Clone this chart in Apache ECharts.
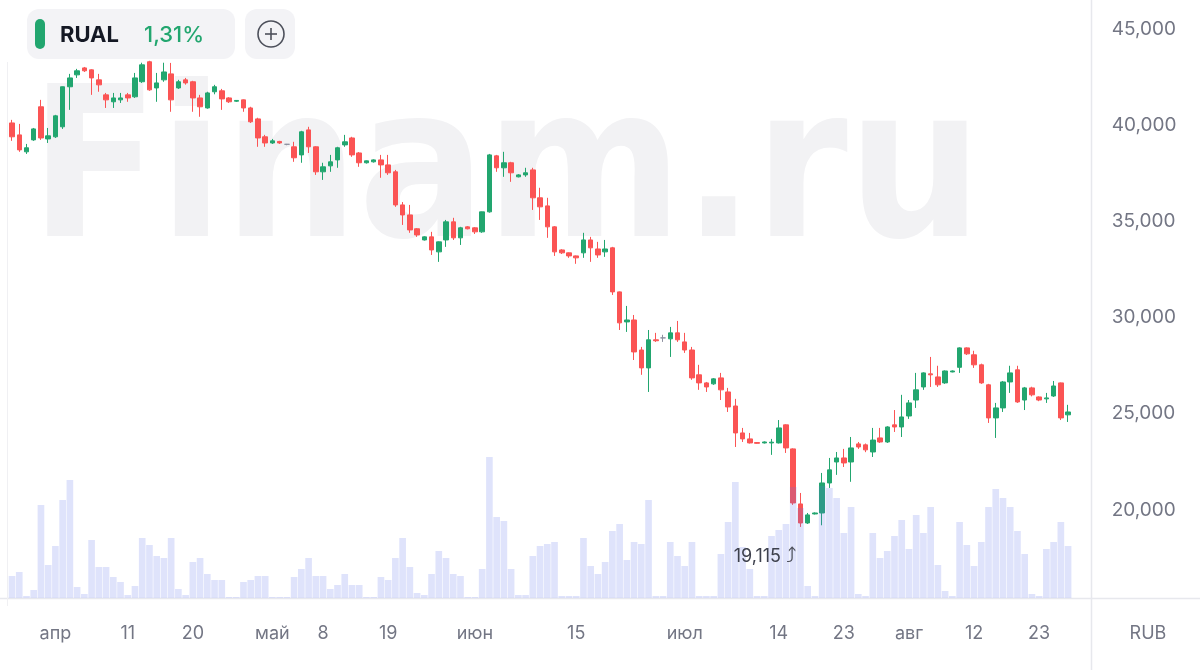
<!DOCTYPE html>
<html>
<head>
<meta charset="utf-8">
<script src="https://cdn.jsdelivr.net/npm/echarts@6/dist/echarts.min.js"></script>
<style>
html,body{margin:0;padding:0;background:#fff;}
#chart{width:1200px;height:670px;}
</style>
</head>
<body>
<div id="chart"></div>
<script>
// ---- data ----
const ticker = 'RUAL';
const changeText = '1,31%';
const currency = 'RUB';

const dates = [
'26.03','27.03','28.03','29.03','30.03','31.03',
'01.04','02.04','03.04','04.04','05.04','06.04','07.04','08.04','09.04','10.04',
'11.04','12.04','13.04','14.04','15.04','16.04','17.04','18.04','19.04','20.04',
'21.04','22.04','23.04','24.04','25.04','26.04','27.04','28.04','29.04','30.04',
'01.05','02.05','03.05','04.05','05.05','06.05','07.05','08.05',
'11.05','12.05','13.05','14.05','15.05','16.05','17.05','18.05','19.05','20.05','21.05','22.05','23.05',
'25.05','26.05','27.05','28.05','29.05','30.05','31.05',
'01.06','02.06','03.06','04.06','05.06','06.06','07.06','08.06','09.06','10.06',
'11.06','12.06','13.06','14.06','15.06','16.06','17.06','18.06','19.06','20.06','21.06',
'23.06','24.06','25.06','26.06','27.06','28.06','29.06','30.06',
'01.07','02.07','03.07','04.07','05.07','06.07','07.07','08.07','09.07','10.07',
'11.07','12.07','13.07','14.07','15.07','16.07','17.07','18.07','19.07','20.07',
'21.07','22.07','23.07','24.07','25.07','26.07','27.07','28.07','29.07','30.07','31.07',
'01.08',
'04.08','05.08','06.08','07.08','08.08','09.08','10.08','11.08','12.08','13.08','14.08','15.08',
'18.08','19.08','20.08','21.08','22.08','23.08','24.08','25.08','26.08','27.08'
];

// [open, close, low, high]
const candles = [
[40.11,39.39,39.18,40.27],[39.49,38.71,38.61,40.06],[38.61,38.82,38.50,39.02],[39.23,39.80,39.18,39.85],
[40.95,39.33,39.23,41.31],[39.28,39.44,39.07,39.85],[39.39,40.48,39.33,40.53],[39.91,41.99,39.80,42.00],
[41.99,42.45,40.79,42.66],[42.61,42.82,42.45,42.92],[42.97,42.82,42.76,43.02],[42.87,42.45,41.57,42.90],
[42.35,42.09,41.73,42.66],[41.57,41.31,40.89,41.67],[41.21,41.41,40.89,41.67],[41.31,41.41,41.15,41.67],
[41.57,41.41,41.21,41.67],[41.47,42.45,41.41,42.71],[42.25,43.13,42.19,43.24],[43.29,41.83,41.78,43.34],
[41.93,42.19,41.21,42.71],[42.35,42.76,42.25,43.24],[42.66,41.31,40.69,43.23],[41.93,42.25,41.88,42.35],
[42.35,42.19,42.10,42.45],[42.25,41.41,40.69,42.30],[41.41,40.95,40.43,41.57],[40.89,41.67,40.85,41.73],
[41.73,41.99,41.60,42.09],[41.78,41.36,40.79,41.88],[41.41,41.21,41.15,41.45],[41.24,41.28,41.20,41.30],
[41.31,40.89,40.69,41.33],[40.89,40.17,40.11,40.95],[40.32,39.33,38.87,40.38],[39.39,39.07,38.87,39.49],
[39.07,39.18,39.02,39.28],[39.15,39.07,39.02,39.18],[39.00,39.00,38.95,39.02],[38.87,38.30,38.09,39.13],
[38.45,39.65,38.04,39.70],[39.75,38.87,38.55,39.91],[38.87,37.57,37.41,38.90],[37.57,37.83,37.15,38.04],
[37.88,38.09,37.57,38.45],[38.19,38.82,37.78,38.87],[38.97,39.13,38.87,39.49],[39.33,38.45,38.35,39.39],
[38.55,38.04,37.83,38.60],[38.04,38.14,38.00,38.16],[38.09,38.19,38.05,38.22],[38.19,37.93,37.26,38.45],
[37.93,37.52,37.41,38.45],[37.57,35.85,35.75,37.67],[35.85,35.33,34.81,36.00],[35.33,34.55,34.40,35.85],
[34.61,34.29,34.19,34.65],[34.03,34.19,34.00,34.22],[34.19,33.51,33.25,34.45],[33.41,33.93,32.89,33.95],
[34.03,34.97,33.67,35.07],[34.97,34.14,34.03,35.18],[34.14,34.66,33.77,34.71],[34.71,34.61,34.58,34.75],
[34.66,34.45,34.34,34.70],[34.45,35.49,34.40,35.50],[35.49,38.45,35.45,38.50],[38.40,37.78,37.57,38.45],
[37.78,38.04,37.31,38.61],[38.04,37.52,37.05,38.09],[37.31,37.41,37.28,37.45],[37.41,37.52,37.31,37.78],
[37.67,36.22,35.59,37.78],[36.22,35.75,35.07,36.74],[35.80,34.71,34.14,36.22],[34.71,33.41,33.20,34.75],
[33.51,33.36,33.30,33.55],[33.36,33.20,33.10,33.38],[33.20,33.10,32.79,33.22],[33.36,34.03,33.10,34.40],
[34.03,33.62,32.89,34.19],[33.56,33.25,33.10,33.93],[33.41,33.56,33.15,34.03],[33.62,31.33,31.17,33.67],
[31.33,29.72,29.35,31.35],[29.77,29.87,29.25,30.60],[29.87,28.21,27.79,30.13],[28.31,27.38,27.02,28.47],
[27.38,28.84,26.13,29.35],[28.84,28.79,28.73,29.20],[28.94,28.94,28.73,29.10],[28.89,29.20,27.95,29.51],
[29.20,28.84,28.73,29.82],[28.73,28.31,28.16,29.20],[28.31,26.86,26.76,28.47],[27.02,26.60,26.24,27.54],
[26.60,26.39,26.13,26.65],[26.55,26.81,26.50,26.85],[26.86,26.24,25.71,27.12],[26.13,25.35,25.09,26.34],
[25.40,24.00,23.27,25.77],[24.00,23.69,23.53,24.26],[23.69,23.48,23.45,24.00],[23.50,23.46,23.44,23.52],
[23.48,23.53,23.45,23.56],[23.48,23.52,22.86,23.69],[23.48,24.26,23.45,24.67],[24.42,23.22,22.96,24.45],
[23.17,20.36,20.26,23.20],[20.31,19.32,19.115,20.88],[19.32,19.74,19.27,19.84],[19.79,19.84,19.76,19.87],
[19.84,21.40,19.20,21.92],[21.40,22.08,21.14,22.70],[22.49,22.70,21.82,23.01],[22.70,22.44,22.23,23.17],
[22.49,23.22,21.46,23.79],[23.43,23.27,23.17,23.53],[23.38,23.12,23.00,23.45],[23.01,23.63,22.75,24.26],
[23.74,23.53,23.48,24.26],[23.53,24.31,23.48,24.35],[24.42,24.31,24.05,25.19],[24.31,24.83,23.79,25.98],
[24.88,25.56,24.73,25.71],[25.71,26.24,25.30,27.12],[26.39,27.12,26.24,27.15],[27.07,27.02,26.39,27.95],
[26.91,26.50,26.39,27.49],[26.60,27.22,26.55,27.25],[27.17,27.22,27.15,27.25],[27.41,28.42,27.12,28.45],
[28.42,28.11,28.05,28.45],[28.06,27.54,27.38,28.27],[27.54,26.60,26.55,27.60],[26.50,24.78,24.52,26.55],
[24.78,25.30,23.74,25.56],[25.30,26.65,25.09,26.70],[26.65,27.12,26.08,27.49],[27.28,25.61,25.56,27.49],
[25.71,26.34,25.19,26.39],[26.34,25.98,25.90,26.40],[25.87,25.71,25.65,25.90],[25.77,25.82,25.56,26.08],
[25.92,26.44,25.87,26.70],[26.60,24.78,24.67,26.62],[24.94,25.09,24.57,25.46]
];

// volume (relative units)
const volumes = [
22,26,2,8,93,33,52,98,118,11,4,58,31,31,21,16,3,12,60,53,42,40,60,9,3,36,40,24,18,18,
1,1,16,18,22,22,1,1,1,21,29,40,22,22,9,13,24,13,13,1,1,21,18,40,60,31,5,3,24,47,
40,24,22,1,1,29,141,81,77,29,3,3,42,52,54,56,2,2,2,60,32,24,36,67,74,38,56,54,98,2,
2,56,42,32,56,2,2,2,44,76,116,51,29,2,2,62,68,74,111,90,12,2,112,110,100,65,91,4,2,65,
40,47,62,78,49,83,65,91,33,7,2,76,53,32,56,91,109,100,91,67,44,4,2,49,56,76,52
];

const xTickLabels = [
['01.04','апр'],['11.04','11'],['20.04','20'],['01.05','май'],['08.05','8'],['19.05','19'],
['01.06','июн'],['15.06','15'],['01.07','июл'],['14.07','14'],['23.07','23'],['01.08','авг'],
['12.08','12'],['23.08','23']
];
const yTicks = {min: 15, max: 46.5, interval: 5};

// ---- chart ----
const tickMap = new Map(xTickLabels);
const GREEN = '#22a66f', RED = '#fb5454', DOJI = '#8e91a0';
const TXT = '#737684';
const FONT = 'Inter, "Noto Sans", sans-serif';
const chart = echarts.init(document.getElementById('chart'), null, {renderer: 'canvas'});

const gridLeft = 8.4, gridRight = 128.3;

chart.setOption({
  animation: false,
  backgroundColor: '#ffffff',
  textStyle: {fontFamily: FONT},
  grid: [
    {left: gridLeft, right: gridRight, top: 0, bottom: 63.9},
    {left: gridLeft, right: gridRight, top: 448, bottom: 72}
  ],
  xAxis: [
    {type: 'category', data: dates, gridIndex: 0, boundaryGap: true,
     axisLine: {show: false}, axisTick: {show: false}, axisLabel: {show: false}, splitLine: {show: false}},
    {type: 'category', data: dates, gridIndex: 1, boundaryGap: true,
     axisLine: {show: false}, axisTick: {show: false}, splitLine: {show: false},
     axisLabel: {
       show: true, margin: 27, color: TXT, fontSize: 18, fontFamily: FONT,
       interval: (i, v) => tickMap.has(v),
       formatter: v => tickMap.get(v) || ''
     }}
  ],
  yAxis: [
    {type: 'value', gridIndex: 0, position: 'right', min: yTicks.min, max: yTicks.max, interval: yTicks.interval,
     axisLine: {show: false}, axisTick: {show: false}, splitLine: {show: false},
     axisLabel: {show: true, margin: 40, color: TXT, fontSize: 19, fontFamily: FONT, align: 'left',
       showMinLabel: false, showMaxLabel: false,
       formatter: v => v.toFixed(3).replace('.', ',')}},
    {type: 'value', gridIndex: 1, min: 0, max: 150, show: false,
     axisLine: {show: false}, axisTick: {show: false}, splitLine: {show: false}, axisLabel: {show: false}}
  ],
  graphic: [
    {type: 'text', z: 0, silent: true, left: 30, top: 76,
     style: {text: 'Finam.ru', font: 'bold 210px "DejaVu Sans Condensed", "DejaVu Sans"', fill: '#f2f2f4'}},
    {type: 'line', z: 1, silent: true, shape: {x1: 1091.5, y1: 0, x2: 1091.5, y2: 670},
     style: {stroke: '#e7e8ed', lineWidth: 1.5}},
    {type: 'line', z: 1, silent: true, shape: {x1: 0, y1: 598.5, x2: 1200, y2: 598.5},
     style: {stroke: '#e7e8ed', lineWidth: 1.5}},
    {type: 'line', z: 1, silent: true, shape: {x1: 7.5, y1: 62, x2: 7.5, y2: 606},
     style: {stroke: '#f0f0f3', lineWidth: 1}},
    {type: 'text', z: 5, silent: true, x: 1148, y: 634,
     style: {text: currency, font: '18px ' + FONT, fill: TXT, align: 'center', verticalAlign: 'middle'}},
    // legend chip
    {type: 'rect', z: 10, silent: true, shape: {x: 27, y: 9, width: 208, height: 50, r: 12}, style: {fill: '#f3f3f6'}},
    {type: 'rect', z: 11, silent: true, shape: {x: 35, y: 19, width: 10, height: 30, r: 5}, style: {fill: GREEN}},
    {type: 'text', z: 11, silent: true, x: 60, y: 35,
     style: {text: ticker, font: 'bold 22px ' + FONT, fill: '#141824', verticalAlign: 'middle'}},
    {type: 'text', z: 11, silent: true, x: 144, y: 35,
     style: {text: changeText, font: '500 22px ' + FONT, fill: GREEN, verticalAlign: 'middle'}},
    {type: 'rect', z: 10, silent: true, shape: {x: 245, y: 9, width: 50, height: 50, r: 12}, style: {fill: '#f3f3f6'}},
    {type: 'circle', z: 11, silent: true, shape: {cx: 271, cy: 34, r: 13}, style: {fill: 'none', stroke: '#4d505b', lineWidth: 1.6}},
    {type: 'line', z: 11, silent: true, shape: {x1: 265, y1: 34, x2: 277, y2: 34}, style: {stroke: '#4d505b', lineWidth: 1.6}},
    {type: 'line', z: 11, silent: true, shape: {x1: 271, y1: 28, x2: 271, y2: 40}, style: {stroke: '#4d505b', lineWidth: 1.6}}
  ],
  series: [
    {
      type: 'candlestick', xAxisIndex: 0, yAxisIndex: 0, z: 2,
      data: candles, barWidth: 5,
      itemStyle: {color: GREEN, color0: RED, borderColor: GREEN, borderColor0: RED, borderColorDoji: DOJI, borderWidth: 1},
      markPoint: {
        symbol: 'circle', symbolSize: 0, silent: true, animation: false,
        data: [{type: 'min', valueDim: 'lowest'}],
        label: {
          show: true, position: 'inside', offset: [-35, 30],
          color: '#3d404c', fontSize: 18, fontFamily: 'Inter, "DejaVu Sans", sans-serif',
          rich: {a: {fontSize: 21, color: '#4d505b', fontFamily: '"DejaVu Sans", sans-serif'}},
          formatter: p => Number(p.value).toFixed(3).replace('.', ',') + ' {a|\u2934}'
        }
      }
    },
    {
      type: 'bar', xAxisIndex: 1, yAxisIndex: 1, z: 3,
      data: volumes, barWidth: '92%',
      itemStyle: {color: 'rgba(95,115,235,0.2)'}
    }
  ]
});
</script>
</body>
</html>
